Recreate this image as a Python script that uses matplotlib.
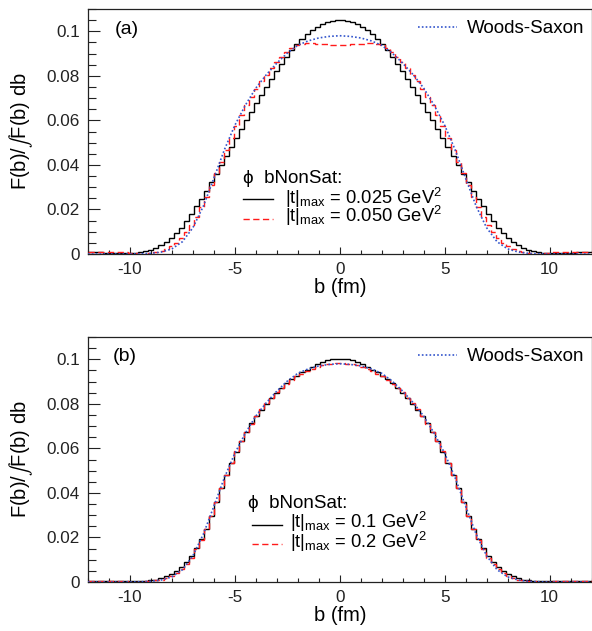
import numpy as np
import matplotlib
matplotlib.use("Agg")
import matplotlib.pyplot as plt
from matplotlib.ticker import MultipleLocator, FixedLocator, FixedFormatter
from matplotlib.lines import Line2D

plt.rcParams['font.family'] = ['Liberation Sans', 'DejaVu Sans']
plt.rcParams['mathtext.fontset'] = 'custom'
plt.rcParams['mathtext.rm'] = 'Liberation Sans'
plt.rcParams['mathtext.it'] = 'Liberation Sans:italic'
plt.rcParams['mathtext.bf'] = 'Liberation Sans:bold'
plt.rcParams['axes.unicode_minus'] = False

# ---------------- data ----------------
b_lo, b_hi, n_bins = -12.0, 12.0, 100

# panel (a): |t|max = 0.025 GeV^2  (bins from b=-11.88 ... 11.88)
hist_a_025 = [
    0.0007, 0.0007, 0.0007, 0.0006, 0.0005, 0.0004, 0.0003, 0.0003, 0.0003, 0.0005,
    0.0008, 0.0013, 0.0020, 0.0029, 0.0041, 0.0055, 0.0072, 0.0093, 0.0118, 0.0147,
    0.0180, 0.0214, 0.0248, 0.0284, 0.0322, 0.0361, 0.0400, 0.0440, 0.0480, 0.0520,
    0.0560, 0.0600, 0.0639, 0.0677, 0.0714, 0.0751, 0.0786, 0.0820, 0.0853, 0.0885,
    0.0915, 0.0942, 0.0966, 0.0987, 0.1005, 0.1020, 0.1032, 0.1041, 0.1047, 0.1050,
    0.1050, 0.1047, 0.1041, 0.1032, 0.1020, 0.1005, 0.0987, 0.0966, 0.0942, 0.0915,
    0.0885, 0.0853, 0.0820, 0.0786, 0.0751, 0.0714, 0.0677, 0.0639, 0.0600, 0.0560,
    0.0520, 0.0480, 0.0440, 0.0400, 0.0361, 0.0322, 0.0284, 0.0248, 0.0214, 0.0180,
    0.0147, 0.0118, 0.0093, 0.0072, 0.0055, 0.0041, 0.0029, 0.0020, 0.0013, 0.0008,
    0.0005, 0.0003, 0.0003, 0.0003, 0.0004, 0.0005, 0.0006, 0.0007, 0.0007, 0.0007,
]

# panel (a): |t|max = 0.050 GeV^2
hist_a_050 = [
    0.0011, 0.0011, 0.0011, 0.0010, 0.0010, 0.0009, 0.0008, 0.0007, 0.0005, 0.0003,
    0.0002, 0.0002, 0.0004, 0.0008, 0.0014, 0.0023, 0.0035, 0.0051, 0.0072, 0.0098,
    0.0130, 0.0167, 0.0210, 0.0258, 0.0310, 0.0362, 0.0415, 0.0468, 0.0520, 0.0573,
    0.0622, 0.0667, 0.0706, 0.0742, 0.0775, 0.0805, 0.0833, 0.0860, 0.0885, 0.0908,
    0.0927, 0.0938, 0.0944, 0.0946, 0.0946, 0.0945, 0.0943, 0.0941, 0.0939, 0.0938,
    0.0938, 0.0939, 0.0941, 0.0943, 0.0945, 0.0946, 0.0946, 0.0944, 0.0938, 0.0927,
    0.0908, 0.0885, 0.0860, 0.0833, 0.0805, 0.0775, 0.0742, 0.0706, 0.0667, 0.0622,
    0.0573, 0.0520, 0.0468, 0.0415, 0.0362, 0.0310, 0.0258, 0.0210, 0.0167, 0.0130,
    0.0098, 0.0072, 0.0051, 0.0035, 0.0023, 0.0014, 0.0008, 0.0004, 0.0002, 0.0002,
    0.0003, 0.0005, 0.0007, 0.0008, 0.0009, 0.0010, 0.0010, 0.0011, 0.0011, 0.0011,
]

# panel (b): |t|max = 0.1 GeV^2
hist_b_01 = [
    0.0003, 0.0003, 0.0003, 0.0003, 0.0003, 0.0003, 0.0003, 0.0003, 0.0003, 0.0003,
    0.0003, 0.0005, 0.0007, 0.0011, 0.0017, 0.0025, 0.0035, 0.0049, 0.0067, 0.0090,
    0.0118, 0.0152, 0.0192, 0.0240, 0.0295, 0.0358, 0.0420, 0.0480, 0.0535, 0.0585,
    0.0635, 0.0675, 0.0712, 0.0745, 0.0774, 0.0800, 0.0826, 0.0850, 0.0872, 0.0892,
    0.0910, 0.0926, 0.0941, 0.0954, 0.0966, 0.0977, 0.0987, 0.0995, 0.1000, 0.1002,
    0.1002, 0.1000, 0.0995, 0.0987, 0.0977, 0.0966, 0.0954, 0.0941, 0.0926, 0.0910,
    0.0892, 0.0872, 0.0850, 0.0826, 0.0800, 0.0774, 0.0745, 0.0712, 0.0675, 0.0635,
    0.0585, 0.0535, 0.0480, 0.0420, 0.0358, 0.0295, 0.0240, 0.0192, 0.0152, 0.0118,
    0.0090, 0.0067, 0.0049, 0.0035, 0.0025, 0.0017, 0.0011, 0.0007, 0.0005, 0.0003,
    0.0003, 0.0003, 0.0003, 0.0003, 0.0003, 0.0003, 0.0003, 0.0003, 0.0003, 0.0003,
]

# panel (b): |t|max = 0.2 GeV^2
hist_b_02 = [
    0.0006, 0.0006, 0.0005, 0.0005, 0.0004, 0.0004, 0.0003, 0.0003, 0.0002, 0.0002,
    0.0002, 0.0003, 0.0004, 0.0007, 0.0011, 0.0018, 0.0028, 0.0041, 0.0058, 0.0081,
    0.0110, 0.0146, 0.0188, 0.0238, 0.0295, 0.0358, 0.0421, 0.0481, 0.0536, 0.0586,
    0.0633, 0.0674, 0.0711, 0.0745, 0.0775, 0.0802, 0.0828, 0.0851, 0.0872, 0.0891,
    0.0908, 0.0923, 0.0936, 0.0947, 0.0957, 0.0966, 0.0973, 0.0978, 0.0981, 0.0982,
    0.0982, 0.0981, 0.0978, 0.0973, 0.0966, 0.0957, 0.0947, 0.0936, 0.0923, 0.0908,
    0.0891, 0.0872, 0.0851, 0.0828, 0.0802, 0.0775, 0.0745, 0.0711, 0.0674, 0.0633,
    0.0586, 0.0536, 0.0481, 0.0421, 0.0358, 0.0295, 0.0238, 0.0188, 0.0146, 0.0110,
    0.0081, 0.0058, 0.0041, 0.0028, 0.0018, 0.0011, 0.0007, 0.0004, 0.0003, 0.0002,
    0.0002, 0.0002, 0.0003, 0.0003, 0.0004, 0.0004, 0.0005, 0.0005, 0.0006, 0.0006,
]

# Woods-Saxon reference curve
ws_b = [-12.0, -11.5, -11.0, -10.5, -10.0, -9.5, -9.0, -8.5, -8.0, -7.5,
        -7.0, -6.5, -6.0, -5.5, -5.0, -4.5, -4.0, -3.5, -3.0, -2.5,
        -2.0, -1.5, -1.0, -0.5, 0.0, 0.5, 1.0, 1.5, 2.0, 2.5,
        3.0, 3.5, 4.0, 4.5, 5.0, 5.5, 6.0, 6.5, 7.0, 7.5,
        8.0, 8.5, 9.0, 9.5, 10.0, 10.5, 11.0, 11.5, 12.0]
ws_val = [0.0, 0.0, 0.0, 0.0, 0.0, 0.0001, 0.0003, 0.0009, 0.0023, 0.0055,
          0.0118, 0.0215, 0.0340, 0.0468, 0.0578, 0.0668, 0.0745, 0.0805, 0.0857, 0.0902,
          0.0937, 0.0957, 0.0970, 0.0977, 0.0980, 0.0977, 0.0970, 0.0957, 0.0937, 0.0902,
          0.0857, 0.0805, 0.0745, 0.0668, 0.0578, 0.0468, 0.0340, 0.0215, 0.0118, 0.0055,
          0.0023, 0.0009, 0.0003, 0.0001, 0.0, 0.0, 0.0, 0.0, 0.0]

x_ticks = [-10, -5, 0, 5, 10]
x_tick_labels = ['-10', '-5', '0', '5', '10']
y_ticks = [0.0, 0.02, 0.04, 0.06, 0.08, 0.1]
y_tick_labels = ['0', '0.02', '0.04', '0.06', '0.08', '0.1']

panels = [
    dict(tag='(a)', h1=hist_a_025, h2=hist_a_050,
         l1=r'|t|$_{\rm max}$ = 0.025 GeV$^{2}$', l2=r'|t|$_{\rm max}$ = 0.050 GeV$^{2}$'),
    dict(tag='(b)', h1=hist_b_01, h2=hist_b_02,
         l1=r'|t|$_{\rm max}$ = 0.1 GeV$^{2}$', l2=r'|t|$_{\rm max}$ = 0.2 GeV$^{2}$'),
]

# ---------------- figure ----------------
W, H = 592, 631
fig = plt.figure(figsize=(W / 100, H / 100), dpi=100)

# axes rectangles in pixels: (left, top, right, bottom)
rects = [(88, 9, 591.5, 254), (88, 337, 591.5, 582)]
# legend geometry per panel (pixels, absolute)
leg = [
    dict(tag_x=115, tag_base=34.5, ws_line=27, ws_base=33.3,
         phi_x=243, hdr_base=183, line_x0=243, line_x1=273, txt_x=285,
         r1_line=199, r1_base=203.5, r2_line=218.5, r2_base=222.5),
    dict(tag_x=113, tag_base=361, ws_line=355, ws_base=361,
         phi_x=248, hdr_base=508, line_x0=252, line_x1=282, txt_x=290,
         r1_line=524.5, r1_base=528.5, r2_line=543.5, r2_base=548),
]

blue = '#3355cc'
red = '#ff1a1a'
edges = np.linspace(b_lo, b_hi, n_bins + 1)
dash_red = (0, (4.5, 2.5))
dot_blue = (0, (1, 1.3))

for i, p in enumerate(panels):
    l, t, r, btm = rects[i]
    ax = fig.add_axes([l / W, 1 - btm / H, (r - l) / W, (btm - t) / H])
    hgt = btm - t
    wid = r - l

    def fx(x):
        return (x - l) / wid

    def fy(y):
        return (btm - y) / hgt

    ax.stairs(p['h1'], edges, baseline=None, color='black', lw=1.0, zorder=3)
    ax.stairs(p['h2'], edges, baseline=None, color=red, lw=1.0,
              linestyle=dash_red, zorder=4)
    ax.plot(ws_b, ws_val, color=blue, lw=1.2, linestyle=dot_blue, zorder=5)

    ax.set_xlim(b_lo, b_hi)
    ax.set_ylim(0, 0.11)

    ax.xaxis.set_major_locator(FixedLocator(x_ticks))
    ax.xaxis.set_major_formatter(FixedFormatter(x_tick_labels))
    ax.xaxis.set_minor_locator(MultipleLocator(1))
    ax.yaxis.set_major_locator(FixedLocator(y_ticks))
    ax.yaxis.set_major_formatter(FixedFormatter(y_tick_labels))
    ax.yaxis.set_minor_locator(MultipleLocator(0.005))

    ax.tick_params(axis='x', which='major', direction='in', length=5.2, width=0.8,
                   labelsize=12.3, pad=5.5, top=False, colors='#222222')
    ax.tick_params(axis='x', which='minor', direction='in', length=2.8, width=0.8, top=False,
                   colors='#222222')
    ax.tick_params(axis='y', which='major', direction='in', length=8.4, width=0.8,
                   labelsize=12.3, pad=5.8, right=False, colors='#222222')
    ax.tick_params(axis='y', which='minor', direction='in', length=6.0, width=0.8, right=False,
                   colors='#222222')
    for s in ax.spines.values():
        s.set_linewidth(0.9)
        s.set_color('#222222')

    ax.set_xlabel('b (fm)', fontsize=14.5, va='center', ha='center')
    ax.xaxis.set_label_coords(0.5, fy(btm + 33.5))
    ax.set_ylabel(r'F(b)/$\int$F(b) db', fontsize=14.5, va='center', ha='center',
                  math_fontfamily='stixsans')
    ax.yaxis.set_label_coords(fx(21.5), 0.5)

    g = leg[i]
    # panel tag
    ax.text(fx(g['tag_x']), fy(g['tag_base']), p['tag'], transform=ax.transAxes,
            fontsize=14, va='baseline', ha='left')

    # Woods-Saxon legend entry
    ax.add_line(Line2D([fx(418), fx(457)], [fy(g['ws_line'])] * 2, transform=ax.transAxes,
                       color=blue, lw=1.2, linestyle=dot_blue))
    ax.text(fx(467), fy(g['ws_base']), 'Woods-Saxon', transform=ax.transAxes,
            fontsize=13.5, va='baseline', ha='left')

    # bNonSat legend
    ax.text(fx(g['phi_x']), fy(g['hdr_base']), '\u03d5  bNonSat:', transform=ax.transAxes,
            fontsize=13.5, va='baseline', ha='left')
    ax.add_line(Line2D([fx(g['line_x0']), fx(g['line_x1'])], [fy(g['r1_line'])] * 2,
                       transform=ax.transAxes, color='black', lw=1.0))
    ax.text(fx(g['txt_x']), fy(g['r1_base']), p['l1'], transform=ax.transAxes,
            fontsize=13.2, va='baseline', ha='left')
    ax.add_line(Line2D([fx(g['line_x0']), fx(g['line_x1'])], [fy(g['r2_line'])] * 2,
                       transform=ax.transAxes, color=red, lw=1.0, linestyle=dash_red))
    ax.text(fx(g['txt_x']), fy(g['r2_base']), p['l2'], transform=ax.transAxes,
            fontsize=13.2, va='baseline', ha='left')

fig.savefig('out.png', dpi=100)
